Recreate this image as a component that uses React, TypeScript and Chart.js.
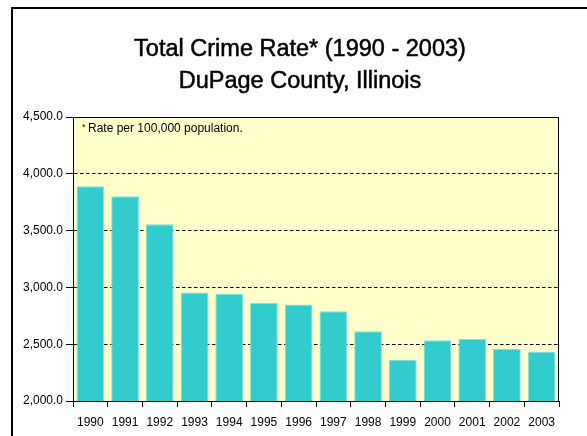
import React, { useEffect, useRef } from "react";
import { Chart, registerables } from "chart.js";

Chart.register(...registerables);

const years = ["1990", "1991", "1992", "1993", "1994", "1995", "1996", "1997", "1998", "1999", "2000", "2001", "2002", "2003"];
const crimeRates = [3890, 3802, 3555, 2956, 2941, 2864, 2850, 2790, 2615, 2364, 2534, 2546, 2458, 2431];
const titleLines = ["Total Crime Rate* (1990 - 2003)", "DuPage County, Illinois"];
const footnote = "Rate per 100,000 population.";
const yMin = 2000;
const yMax = 4500;
const yStep = 500;

const FONT = "'Liberation Sans', Arial, sans-serif";

const decorPlugin = {
  id: "decor",
  beforeDraw(chart: any) {
    const { ctx, chartArea: a } = chart;
    ctx.save();
    ctx.fillStyle = "#ffffff";
    ctx.fillRect(0, 0, chart.width, chart.height);
    ctx.fillStyle = "#FFFFCC";
    ctx.fillRect(a.left, a.top, a.right - a.left, a.bottom - a.top);
    ctx.restore();
  },
  afterDraw(chart: any) {
    const { ctx, chartArea: a } = chart;
    ctx.save();
    // outer frame (top & left visible)
    ctx.strokeStyle = "#000000";
    ctx.lineWidth = 2;
    ctx.beginPath();
    ctx.moveTo(12, chart.height + 2);
    ctx.lineTo(12, 8);
    ctx.lineTo(chart.width + 2, 8);
    ctx.stroke();
    // plot frame
    ctx.lineWidth = 1;
    ctx.strokeStyle = "#000000";
    ctx.strokeRect(Math.round(a.left) + 0.5, Math.round(a.top) + 0.5, Math.round(a.right - a.left) - 1, Math.round(a.bottom - a.top));
    // title
    ctx.fillStyle = "#000000";
    ctx.strokeStyle = "#000000";
    ctx.lineWidth = 0.5;
    ctx.textAlign = "center";
    ctx.textBaseline = "alphabetic";
    ctx.font = `23.5px ${FONT}`;
    ctx.fillText(titleLines[0], 300, 56);
    ctx.strokeText(titleLines[0], 300, 56);
    ctx.fillText(titleLines[1], 300, 88);
    ctx.strokeText(titleLines[1], 300, 88);
    // footnote
    ctx.textAlign = "left";
    ctx.font = `9px ${FONT}`;
    ctx.fillText("*", a.left + 9, a.top + 13);
    ctx.font = `12px ${FONT}`;
    ctx.fillText(footnote, a.left + 15, a.top + 15);
    ctx.restore();
  },
};

export default function App() {
  const ref = useRef<HTMLCanvasElement | null>(null);
  useEffect(() => {
    if (!ref.current) return;
    const chart = new Chart(ref.current, {
      type: "bar",
      data: {
        labels: years,
        datasets: [
          {
            data: crimeRates,
            backgroundColor: "#33CCCC",
            borderColor: "#7FE3DD",
            borderWidth: 1,
            borderSkipped: "bottom",
            categoryPercentage: 1,
            barPercentage: 0.8,
          },
        ],
      },
      options: {
        animation: false,
        responsive: false,
        maintainAspectRatio: false,
        layout: { padding: { left: 0, top: 117, right: 28, bottom: 0 } },
        plugins: { legend: { display: false }, title: { display: false }, tooltip: { enabled: false } },
        scales: {
          x: {
            grid: {
              offset: true,
              drawOnChartArea: false,
              drawTicks: true,
              tickLength: 6,
              color: "#000000",
              lineWidth: 1,
            },
            border: { display: true, color: "#000000" },
            ticks: {
              color: "#000000",
              font: { family: FONT, size: 12 },
              padding: 8,
              maxRotation: 0,
              autoSkip: false,
            },
            afterFit(scale: any) {
              scale.height = 35;
            },
          },
          y: {
            min: yMin,
            max: yMax,
            grid: {
              drawTicks: true,
              tickLength: 7,
              color: "#000000",
              lineWidth: 1,
              tickBorderDash: [],
            },
            border: { display: true, color: "#000000", dash: [3.5, 2.5] },
            ticks: {
              stepSize: yStep,
              color: "#000000",
              font: { family: FONT, size: 12 },
              padding: 3,
              callback: (v: any) =>
                Number(v).toLocaleString("en-US", { minimumFractionDigits: 1, maximumFractionDigits: 1 }),
            },
            afterFit(scale: any) {
              scale.width = 73;
            },
          },
        },
      },
      plugins: [decorPlugin],
    });
    return () => chart.destroy();
  }, []);
  return (
    <div style={{ position: "fixed", left: 0, top: 0, width: 587, height: 436 }}>
      <canvas ref={ref} width={587} height={436} style={{ width: 587, height: 436, display: "block" }} />
    </div>
  );
}
